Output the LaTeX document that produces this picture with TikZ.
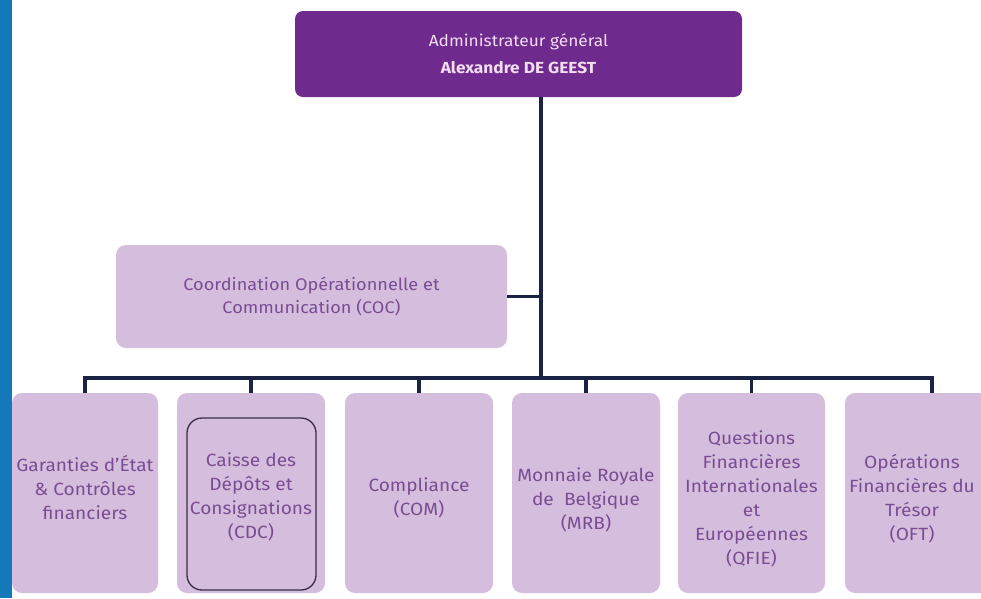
\documentclass[tikz,border=0pt]{standalone}
\usepackage{fontspec}
\setmainfont[FakeStretch=1.08]{Fira Sans}
\definecolor{topfill}{HTML}{6E2A8C}
\definecolor{toptext}{HTML}{F3DDF3}
\definecolor{boxfill}{HTML}{D5BEDD}
\definecolor{boxtext}{HTML}{7A4C94}
\definecolor{linec}{HTML}{1B2344}
\definecolor{stripe}{HTML}{1479B8}
\definecolor{innerc}{HTML}{3A2C4C}
\begin{document}
\begin{tikzpicture}[x=1pt,y=-1pt,
  topbox/.style={fill=topfill, rounded corners=8pt, inner sep=0pt, text=toptext, align=center, font=\fontsize{16}{27}\selectfont},
  unitbox/.style={fill=boxfill, rounded corners=10pt, inner sep=0pt, minimum height=200pt},
  utext/.style={text=boxtext, align=center, inner sep=0pt, font=\fontsize{17.7}{24}\selectfont},
  innerbox/.style={draw=innerc, line width=1.3pt, rounded corners=15pt},
  conn/.style={draw=linec, line width=3.2pt}]
\useasboundingbox (0,0) rectangle (981,598);
\clip (0,0) rectangle (981,598);
\fill[white] (0,0) rectangle (981,598);
% top
\node[topbox, minimum width=447pt, minimum height=86pt] (top) at (518.5,54) {Administrateur général\\\textbf{Alexandre DE GEEST}};
\node[unitbox, minimum width=391pt, minimum height=103pt, text=boxtext, align=center, font=\fontsize{16.8}{23}\selectfont] (coc) at (311.5,296.5) {Coordination Opérationnelle et\\Communication (COC)};
% bottom boxes
\node[unitbox, minimum width=146pt] (b1) at (85,493) {};
\node[unitbox, minimum width=148pt] (b2) at (251,493) {};
\node[innerbox, minimum width=129pt, minimum height=172pt] (b2i) at (251.5,504) {};
\node[unitbox, minimum width=148pt] (b3) at (419,493) {};
\node[unitbox, minimum width=148pt] (b4) at (586,493) {};
\node[unitbox, minimum width=147pt] (b5) at (751.5,493) {};
\node[unitbox, minimum width=150pt] (b6) at (920,493) {};
% texts
\node[utext] (t1) at (85,488) {Garanties d'État\\\& Contrôles\\financiers};
\node[utext] (t2) at (251,497) {Caisse des\\Dépôts et\\Consignations\\(CDC)};
\node[utext] (t3) at (419,498) {Compliance\\(COM)};
\node[utext] (t4) at (586,500) {Monnaie Royale\\de\ \ Belgique\\(MRB)};
\node[utext] (t5) at (751.5,499) {Questions\\Financières\\Internationales\\et\\Européennes\\(QFIE)};
\node[utext] (t6) at (912,499) {Opérations\\Financières du\\Trésor\\(OFT)};
% blue strip
\fill[stripe] (0,0) rectangle (11.5,598);
% connectors
\coordinate (vx) at (541,0);
\coordinate (bus) at (0,378);
\coordinate (d6) at (932,393);
\draw[conn] (top.south -| vx) -- (vx |- bus);
\draw[conn] (coc.east) -- (coc.east -| vx);
\draw[conn] (b1.north) -- (b1.north |- bus) -- (d6 |- bus) -- (d6);
\draw[conn] (b2.north) -- (b2.north |- bus);
\draw[conn] (b3.north) -- (b3.north |- bus);
\draw[conn] (b4.north) -- (b4.north |- bus);
\draw[conn] (b5.north) -- (b5.north |- bus);
\end{tikzpicture}
\end{document}
